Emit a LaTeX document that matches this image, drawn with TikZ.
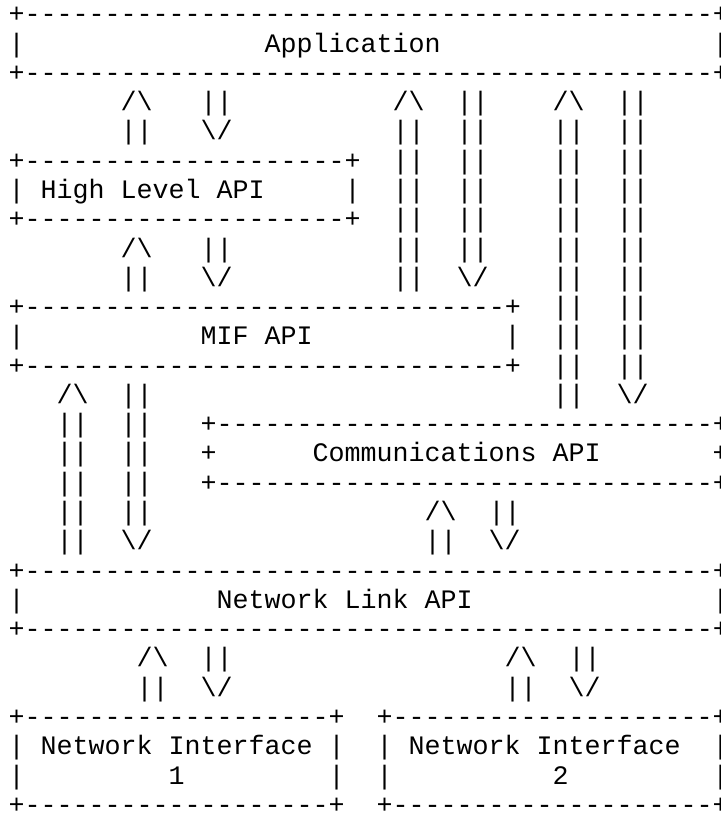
\documentclass[tikz,border=0pt]{standalone}
\usepackage{fontspec}
\setmonofont{Liberation Mono}
\newcommand\dashrun[1]{\foreach \i in {1,...,#1}{-}}
\newcommand\bs{\textbackslash}
% place text whose first character sits in column #2 of text row #3
\newcommand\txt[4]{\node[ch] (#1) at ({8.7+16*#2},{813-22.8-29.28*#3}) {#4};}
% horizontal edge of a box: + ---- +
\newcommand\edge[4]{\txt{#1}{#2}{#3}{+\dashrun{#4}+}}
% an up arrow: /\ on row #3 then || down to row #4, at columns #2,#2+1
\newcommand\uparr[4]{%
  \txt{#1h}{#2}{#3}{/\bs}%
  \foreach \r in {#4}{\txt{#1s\r}{#2}{\r}{||}}}
% a down arrow: || from rows #3, then \/ on row #4
\newcommand\downarr[4]{%
  \foreach \r in {#3}{\txt{#1s\r}{#2}{\r}{||}}%
  \txt{#1h}{#2}{#4}{\bs/}}
\tikzset{ch/.style={anchor=base west,inner sep=0pt,outer sep=0pt,
  font=\ttfamily\fontsize{26.67pt}{29.28pt}\selectfont,text=black}}
\begin{document}
\begin{tikzpicture}[x=1pt,y=1pt]
\useasboundingbox (0,0) rectangle (720,813);
\clip (0,0) rectangle (720,813);
% Application
\edge{appT}{0}{0}{43}
\txt{appL}{0}{1}{|}\txt{app}{16}{1}{Application}\txt{appR}{44}{1}{|}
\edge{appB}{0}{2}{43}
% arrows Application <-> High Level API
\uparr{a1}{7}{3}{4}
\downarr{a2}{12}{3}{4}
% arrows Application <-> MIF API
\uparr{b1}{24}{3}{4,...,9}
\downarr{b2}{28}{3,...,8}{9}
% arrows Application <-> Communications API
\uparr{c1}{34}{3}{4,...,13}
\downarr{c2}{38}{3,...,12}{13}
% High Level API
\edge{hlaT}{0}{5}{20}
\txt{hlaL}{0}{6}{|}\txt{hla}{2}{6}{High Level API}\txt{hlaR}{21}{6}{|}
\edge{hlaB}{0}{7}{20}
\uparr{d1}{7}{8}{9}
\downarr{d2}{12}{8}{9}
% MIF API
\edge{mifT}{0}{10}{30}
\txt{mifL}{0}{11}{|}\txt{mif}{12}{11}{MIF API}\txt{mifR}{31}{11}{|}
\edge{mifB}{0}{12}{30}
\uparr{e1}{3}{13}{14,...,18}
\downarr{e2}{7}{13,...,17}{18}
% Communications API
\edge{comT}{12}{14}{31}
\txt{comL}{12}{15}{+}\txt{com}{19}{15}{Communications API}\txt{comR}{44}{15}{+}
\edge{comB}{12}{16}{31}
\uparr{f1}{26}{17}{18}
\downarr{f2}{30}{17}{18}
% Network Link API
\edge{nlT}{0}{19}{43}
\txt{nlL}{0}{20}{|}\txt{nl}{13}{20}{Network Link API}\txt{nlR}{44}{20}{|}
\edge{nlB}{0}{21}{43}
\uparr{g1}{8}{22}{23}
\downarr{g2}{12}{22}{23}
\uparr{h1}{31}{22}{23}
\downarr{h2}{35}{22}{23}
% Network Interface 1
\edge{niaT}{0}{24}{19}
\txt{niaL}{0}{25}{|}\txt{nia}{2}{25}{Network Interface}\txt{niaR}{20}{25}{|}
\txt{niaL2}{0}{26}{|}\txt{nian}{10}{26}{1}\txt{niaR2}{20}{26}{|}
\edge{niaB}{0}{27}{19}
% Network Interface 2
\edge{nibT}{23}{24}{20}
\txt{nibL}{23}{25}{|}\txt{nib}{25}{25}{Network Interface}\txt{nibR}{44}{25}{|}
\txt{nibL2}{23}{26}{|}\txt{nibn}{34}{26}{2}\txt{nibR2}{44}{26}{|}
\edge{nibB}{23}{27}{20}
\end{tikzpicture}
\end{document}
